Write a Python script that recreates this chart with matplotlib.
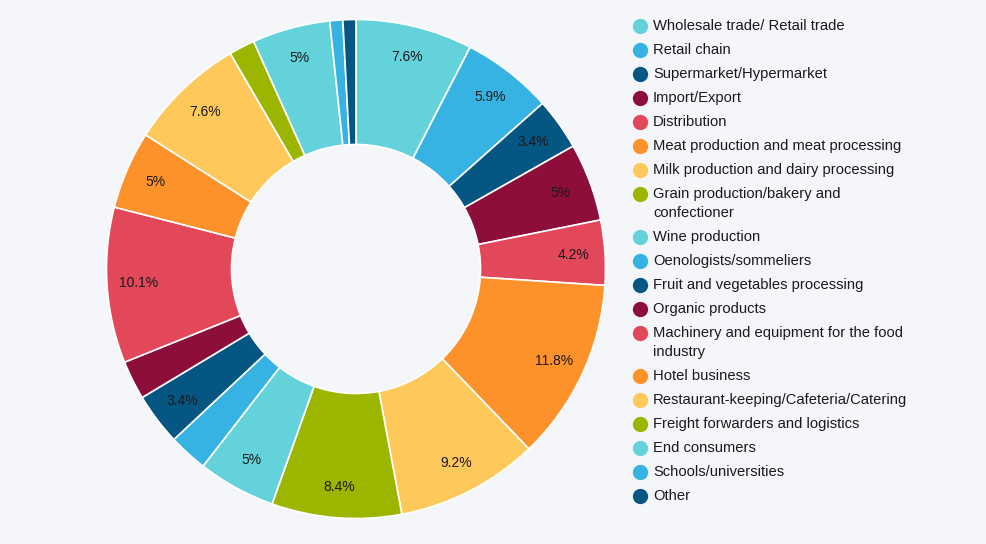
import matplotlib
matplotlib.use('Agg')
import matplotlib.pyplot as plt

# respondents per sector (n = 119)
sectors = [
    "Wholesale trade/ Retail trade",
    "Retail chain",
    "Supermarket/Hypermarket",
    "Import/Export",
    "Distribution",
    "Meat production and meat processing",
    "Milk production and dairy processing",
    "Grain production/bakery and\nconfectioner",
    "Wine production",
    "Oenologists/sommeliers",
    "Fruit and vegetables processing",
    "Organic products",
    "Machinery and equipment for the food\nindustry",
    "Hotel business",
    "Restaurant-keeping/Cafeteria/Catering",
    "Freight forwarders and logistics",
    "End consumers",
    "Schools/universities",
    "Other",
]
counts = [9, 7, 4, 6, 5, 14, 11, 10, 6, 3, 4, 3, 12, 6, 9, 2, 6, 1, 1]

palette = ['#63d2db', '#37b3e3', '#065683', '#8d0e3b', '#e2475a',
           '#fe922a', '#fec85b', '#9cb600']
colors = [palette[i % len(palette)] for i in range(len(counts))]

bg = '#f4f6fa'
plt.rcParams['font.family'] = ['Liberation Sans', 'DejaVu Sans']

fig = plt.figure(figsize=(9.87, 5.44), dpi=100)
fig.patch.set_facecolor(bg)

W, H = 987, 544
cx, cy, R = 356, 269, 250
ax = fig.add_axes([(cx - R) / W, (H - cy - R) / H, 2 * R / W, 2 * R / H])
ax.set_facecolor(bg)


def fmt(p):
    if p < 3.3:
        return ''
    s = f"{p:.1f}"
    if s.endswith('.0'):
        s = s[:-2]
    return s + '%'


wedges, texts, autotexts = ax.pie(
    counts, colors=colors, startangle=90, counterclock=False, radius=0.998,
    autopct=fmt, pctdistance=0.875,
    wedgeprops=dict(width=0.5, edgecolor='white', linewidth=1.2),
    textprops=dict(fontsize=10, color='#1a1a1a'))
ax.set_xlim(-1, 1)
ax.set_ylim(-1, 1)
ax.set_aspect('equal')
ax.axis('off')

# legend drawn by hand so wrapped labels keep the dot on the first line
lx, tx = 640, 653
y = 26
for name, col in zip(sectors, colors):
    fig.lines.append(plt.Line2D([lx / W], [1 - y / H], transform=fig.transFigure,
                                marker='o', markersize=11, color=col,
                                markeredgewidth=0, linestyle='none'))
    for k, line in enumerate(name.split('\n')):
        fig.text(tx / W, 1 - (y + 19 * k) / H, line, fontsize=10.6,
                 color='#1a1a1a', va='center', ha='left')
    y += 24 + 19 * name.count('\n')

fig.savefig('out.png', dpi=100, facecolor=bg)
